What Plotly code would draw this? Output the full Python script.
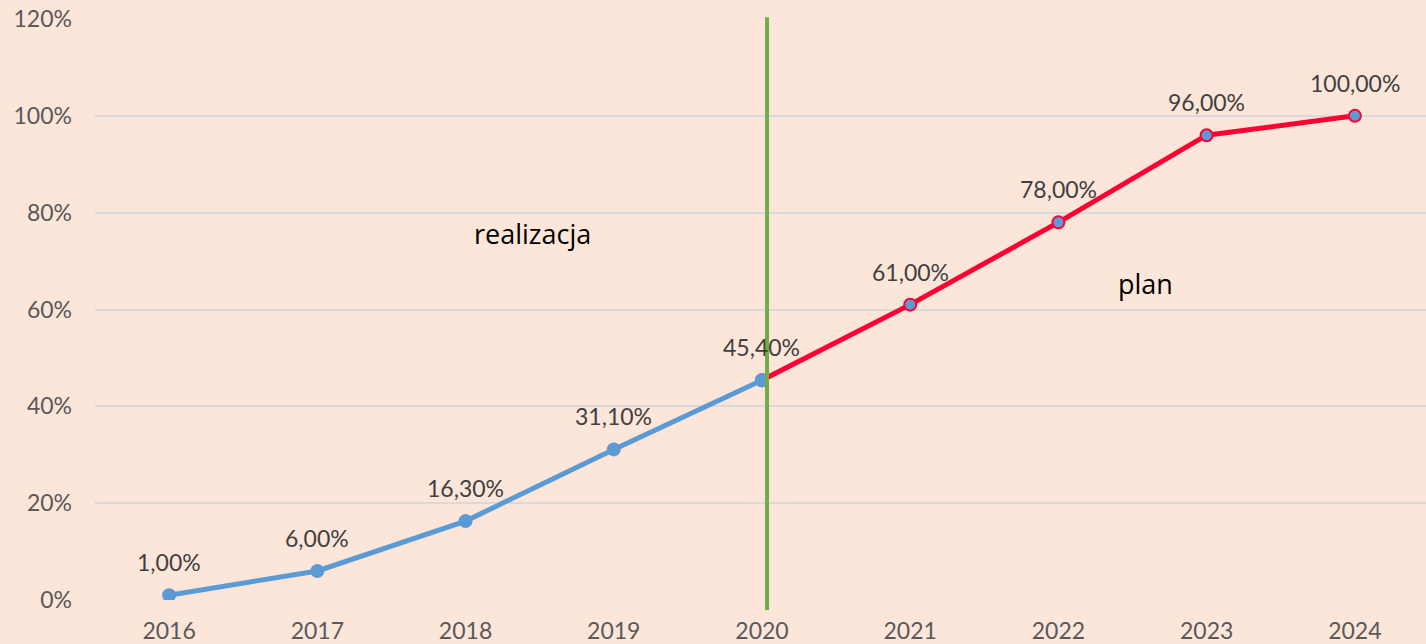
import plotly.graph_objects as go

years = ["2016", "2017", "2018", "2019", "2020", "2021", "2022", "2023", "2024"]
real_years = ["2016", "2017", "2018", "2019", "2020"]
real_vals = [1.00, 6.00, 16.30, 31.10, 45.40]
plan_years = ["2020", "2021", "2022", "2023", "2024"]
plan_vals = [45.40, 61.00, 78.00, 96.00, 100.00]
ytick_vals = [0, 20, 40, 60, 80, 100, 120]
ytick_text = ["0%", "20%", "40%", "60%", "80%", "100%", "120%"]

BLUE = "#5B9BD5"
RED = "#FF0033"
GREEN = "#70AD47"
BG = "#FCE6D9"

fig = go.Figure()
fig.add_trace(go.Scatter(
    x=plan_years, y=plan_vals, mode="lines+markers",
    line=dict(color=RED, width=5),
    marker=dict(size=12, color=BLUE, line=dict(color=RED, width=2)),
    hoverinfo="skip", showlegend=False))
fig.add_trace(go.Scatter(
    x=real_years, y=real_vals, mode="lines+markers",
    line=dict(color=BLUE, width=5),
    marker=dict(size=14, color=BLUE),
    hoverinfo="skip", showlegend=False))

def fmt(v):
    return f"{v:.2f}".replace(".", ",") + "%"

label_pts = list(zip(real_years, real_vals)) + list(zip(plan_years[1:], plan_vals[1:]))
for x, v in label_pts:
    fig.add_annotation(x=years.index(x), y=v, text=fmt(v), showarrow=False, yshift=33,
                       font=dict(family="Lato", size=23, color="#404040"))

fig.add_annotation(x=2.455, y=75.6, text="realizacja", showarrow=False,
                   font=dict(family="Open Sans", size=27, color="#000000"))
fig.add_annotation(x=6.59, y=65.3, text="plan", showarrow=False,
                   font=dict(family="Open Sans", size=27, color="#000000"))

fig.add_shape(type="line", xref="x", yref="paper", x0=4.034, x1=4.034, y0=-0.017, y1=1.003,
              line=dict(color=GREEN, width=4))

fig.update_layout(
    width=1426, height=644,
    paper_bgcolor=BG, plot_bgcolor=BG,
    margin=dict(l=95, r=0, t=19, b=44),
    xaxis=dict(type="category", categoryarray=years, categoryorder="array",
               range=[-0.5, 8.48], showgrid=False, zeroline=False, showline=False,
               ticks="", ticklabelstandoff=15,
               tickfont=dict(family="Lato", size=23, color="#595959")),
    yaxis=dict(range=[0, 120], tickvals=ytick_vals, ticktext=ytick_text,
               showgrid=True, gridcolor="#D9D9D9", gridwidth=2, zeroline=False,
               ticks="", ticklabelstandoff=22,
               tickfont=dict(family="Lato", size=23, color="#595959")),
)
fig.write_html("out.html", config={"displayModeBar": False},
               post_script="document.body.style.margin='0';document.body.style.background='" + BG + "';")
